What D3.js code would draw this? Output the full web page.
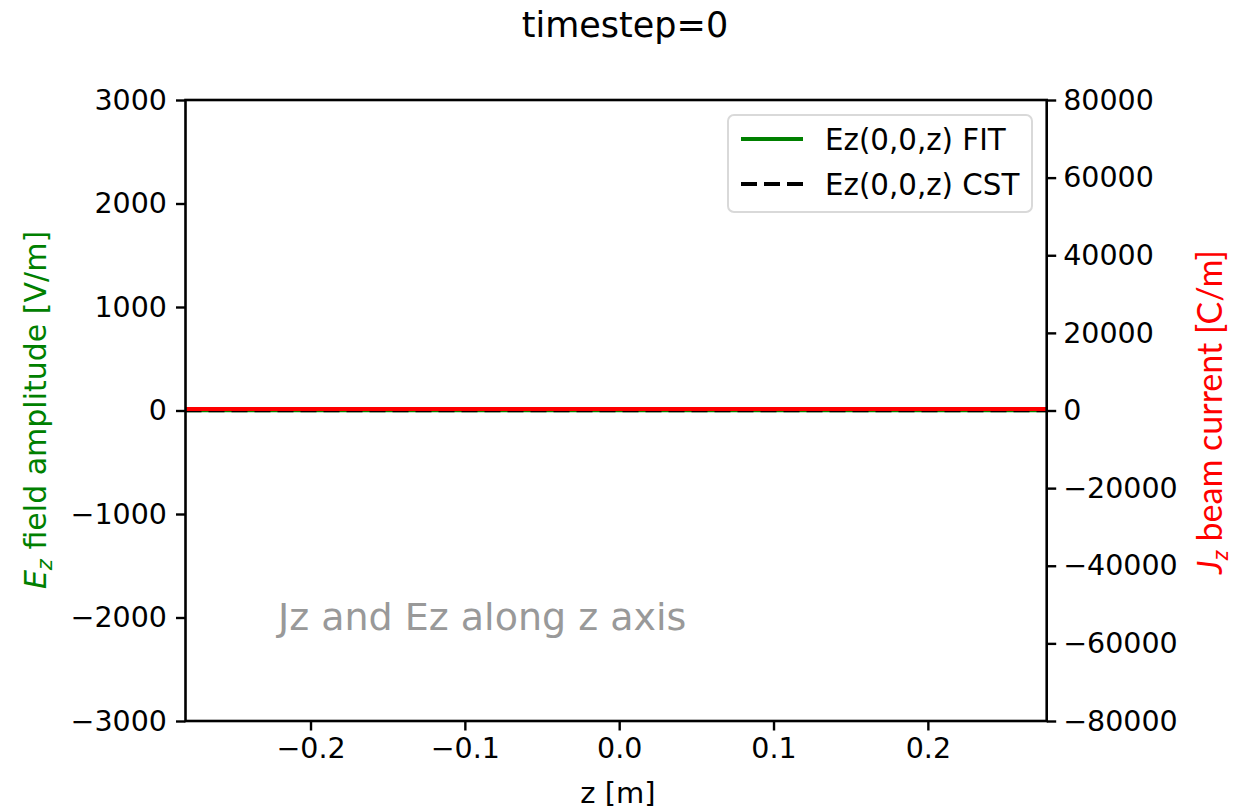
<!DOCTYPE html>
<html><head><meta charset="utf-8">
<script src="https://cdn.jsdelivr.net/npm/d3@7"></script>
<style>
html,body{margin:0;padding:0;background:#fff;}
svg text{font-family:"DejaVu Sans",sans-serif;}
</style></head>
<body>
<svg id="c" width="1251" height="809"></svg>
<script>
// ---- data ----
const zValues   = [-0.281, -0.2, -0.1, 0.0, 0.1, 0.2, 0.277];
const ezFit     = [0, 0, 0, 0, 0, 0, 0];
const ezCst     = [0, 0, 0, 0, 0, 0, 0];
const jzCurrent = [0, 0, 0, 0, 0, 0, 0];
const xTicks      = [-0.2, -0.1, 0.0, 0.1, 0.2];
const leftTicks   = [-3000, -2000, -1000, 0, 1000, 2000, 3000];
const rightTicks  = [-80000, -60000, -40000, -20000, 0, 20000, 40000, 60000, 80000];
const legendItems = ["Ez(0,0,z) FIT", "Ez(0,0,z) CST"];
const titleText = "timestep=0";

const svg = d3.select("#c");
const L = 185.5, R = 1046.7, T = 100, B = 721;
const x = d3.scaleLinear().domain([-0.281, 0.277]).range([L, R]);
const yL = d3.scaleLinear().domain([-3000, 3000]).range([B, T]);
const yR = d3.scaleLinear().domain([-80000, 80000]).range([B, T]);
const minus = s => String(s).replace("-", "\u2212");

const fs = 28.5;
function styleAxis(g){
  g.selectAll("path.domain").remove();
  g.selectAll(".tick line").attr("stroke","#000").attr("stroke-width",2.4);
  g.selectAll(".tick text").attr("font-family","DejaVu Sans").attr("font-size",fs).attr("fill","#000");
}
// x axis
svg.append("g").attr("transform",`translate(0,${B})`)
  .call(d3.axisBottom(x).tickValues(xTicks).tickSize(9.5).tickPadding(7).tickFormat(d=>minus(d3.format(".1f")(d))))
  .call(styleAxis);
// left axis
svg.append("g").attr("transform",`translate(${L},0)`)
  .call(d3.axisLeft(yL).tickValues(leftTicks).tickSize(9.5).tickPadding(9).tickFormat(d=>minus(d)))
  .call(styleAxis);
// right axis
svg.append("g").attr("transform",`translate(${R},0)`)
  .call(d3.axisRight(yR).tickValues(rightTicks).tickSize(9.5).tickPadding(7).tickFormat(d=>minus(d)))
  .call(styleAxis);

// lines
svg.append("clipPath").attr("id","clp").append("rect").attr("x",L).attr("y",T).attr("width",R-L).attr("height",B-T);
const plot = svg.append("g").attr("clip-path","url(#clp)");
const lineL = (arr)=>d3.line().x((d,i)=>x(zValues[i])).y(d=>yL(d))(arr);
const lineR = (arr)=>d3.line().x((d,i)=>x(zValues[i])).y(d=>yR(d))(arr);
plot.append("path").attr("d",lineL(ezFit)).attr("fill","none").attr("stroke","#008000").attr("stroke-width",3.5);
plot.append("path").attr("d",lineL(ezCst)).attr("fill","none").attr("stroke","#000").attr("stroke-width",3.5).attr("stroke-dasharray","16,7");
plot.append("path").attr("d",lineR(jzCurrent)).attr("fill","none").attr("stroke","#ff0000").attr("stroke-width",4)
  .attr("transform","translate(0,-1.5)");

// spines
svg.append("rect").attr("x",L).attr("y",T).attr("width",R-L).attr("height",B-T)
  .attr("fill","none").attr("stroke","#000").attr("stroke-width",2.6);

// title
svg.append("text").attr("x",625).attr("y",37).attr("text-anchor","middle")
  .attr("font-size",35).attr("fill","#000").text(titleText);
// x label
svg.append("text").attr("x",618).attr("y",803).attr("text-anchor","middle")
  .attr("font-size",29).attr("fill","#000").text("z [m]");
// left label
const ll = svg.append("text").attr("transform","translate(46,410) rotate(-90)").attr("text-anchor","middle")
  .attr("font-size",30).attr("fill","#008000");
ll.append("tspan").attr("font-style","italic").text("E");
ll.append("tspan").attr("font-style","italic").attr("font-size",21).attr("dy",6).text("z");
ll.append("tspan").attr("dy",-6).text(" field amplitude [V/m]");
// right label
const rl = svg.append("text").attr("transform","translate(1222,412) rotate(-90)").attr("text-anchor","middle")
  .attr("font-family","Lato").attr("font-size",34).attr("fill","#ff0000");
rl.append("tspan").attr("font-style","italic").attr("font-family","Lato").text("J");
rl.append("tspan").attr("font-style","italic").attr("font-family","Lato").attr("font-size",24).attr("dy",6).text("z");
rl.append("tspan").attr("dy",-6).attr("font-family","Lato").text(" beam current [C/m]");

// annotation
svg.append("text").attr("x",278).attr("y",630).attr("font-family","Lato").attr("font-size",38)
  .attr("fill","#999999").text("Jz and Ez along z axis");

// legend
const lg = svg.append("g");
lg.append("rect").attr("x",728).attr("y",115).attr("width",304).attr("height",97).attr("rx",6)
  .attr("fill","#fff").attr("fill-opacity",0.8).attr("stroke","#d9d9d9").attr("stroke-width",2);
const lgStyles = [{c:"#008000",dash:null},{c:"#000",dash:"16,7"}];
legendItems.forEach((t,i)=>{
  const yy = 139 + i*45;
  lg.append("line").attr("x1",741).attr("x2",803).attr("y1",yy).attr("y2",yy)
    .attr("stroke",lgStyles[i].c).attr("stroke-width",4).attr("stroke-dasharray",lgStyles[i].dash);
  lg.append("text").attr("x",825).attr("y",yy+10.5).attr("font-size",29.3).attr("fill","#000").text(t);
});
</script>
</body></html>
